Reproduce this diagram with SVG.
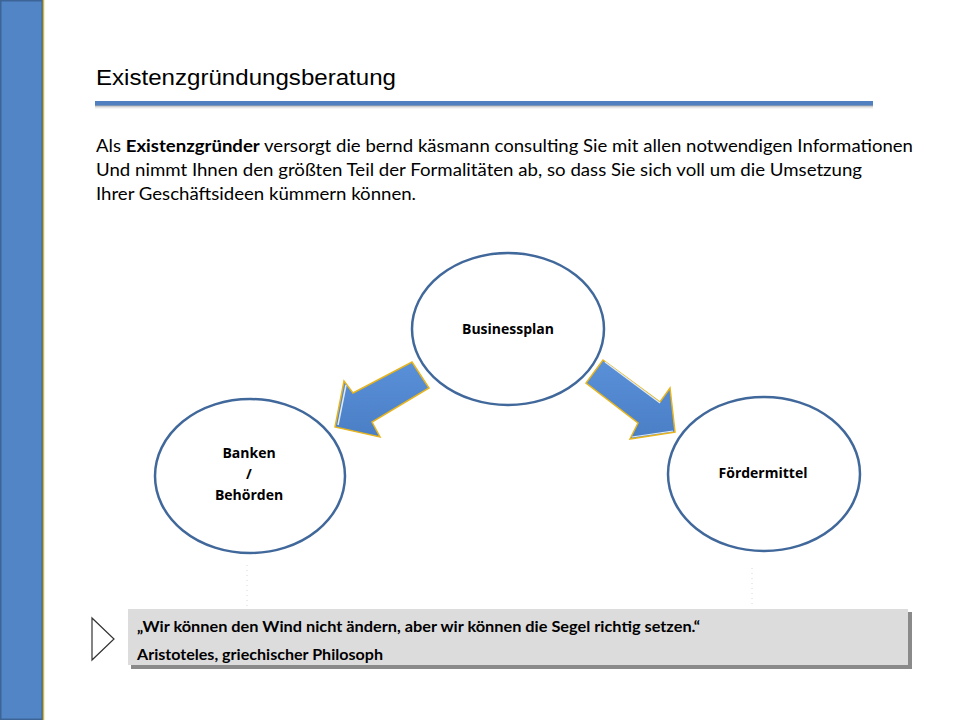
<svg xmlns="http://www.w3.org/2000/svg" width="960" height="720" viewBox="0 0 960 720">
<defs>
<style>
.title{font-family:"Liberation Sans",Arial,sans-serif;font-size:22px;fill:#000}
.para{font-family:Lato,"Open Sans",sans-serif;font-size:17px;fill:#000}
.lbl{font-family:"Open Sans",Lato,sans-serif;font-size:14px;font-weight:bold;fill:#000;text-anchor:middle}
.quote{font-family:Lato,"Open Sans",sans-serif;font-size:15px;font-weight:bold;fill:#000}
.node ellipse{fill:#fff;stroke:#41689b;stroke-width:2.5}
.arrow{fill:url(#ag);stroke:#e6b41e;stroke-width:1.5;stroke-linejoin:miter}
.faint{stroke:#d8d8d8;stroke-width:1;stroke-dasharray:1 4;fill:none}
</style>
<linearGradient id="ag" x1="0" y1="0" x2="0" y2="1">
<stop offset="0" stop-color="#5a90d8"/>
<stop offset="1" stop-color="#4a7fc6"/>
</linearGradient>
<linearGradient id="sh" x1="0" y1="0" x2="0" y2="1">
<stop offset="0" stop-color="#9a9a9a"/>
<stop offset="1" stop-color="#ffffff" stop-opacity="0"/>
</linearGradient>
</defs>
<rect x="0" y="0" width="960" height="720" fill="#fff"/>
<!-- left bar -->
<rect x="0.75" y="0.75" width="41.5" height="718.5" fill="#5285c6" stroke="#3d6497" stroke-width="1.5"/>
<line x1="43.5" y1="0" x2="43.5" y2="720" stroke="#d9b632" stroke-width="1.5"/>
<!-- title -->
<text class="title" x="96" y="85" textLength="300" lengthAdjust="spacingAndGlyphs">Existenzgründungsberatung</text>
<rect x="95" y="105" width="778" height="5" fill="url(#sh)"/>
<rect x="95" y="101" width="778" height="4.5" fill="#5080c0"/>
<!-- paragraph -->
<text class="para" x="96" y="152" textLength="817" lengthAdjust="spacingAndGlyphs">Als <tspan font-weight="bold">Existenzgründer</tspan> versorgt die bernd käsmann consulting Sie mit allen notwendigen Informationen</text>
<text class="para" x="96" y="176" textLength="766" lengthAdjust="spacingAndGlyphs">Und nimmt Ihnen den größten Teil der Formalitäten ab, so dass Sie sich voll um die Umsetzung</text>
<text class="para" x="96" y="200" textLength="320" lengthAdjust="spacingAndGlyphs">Ihrer Geschäftsideen kümmern können.</text>
<!-- faint dotted guides -->
<g id="guides">
<line class="faint" x1="247" y1="565" x2="247" y2="607"/>
<line class="faint" x1="752" y1="568" x2="752" y2="607"/>
</g>
<!-- connectors -->
<g id="connectors">
<polygon class="arrow" points="412,362 429,388 372,422 380,437 335,427 344,381 353,393"/>
<polygon class="arrow" points="603,360 660,402 670,388 675,432 630,439 638,423 586,383"/>
<polyline points="338,425 346,385" fill="none" stroke="#dfeaf8" stroke-width="1.5"/>
<polyline points="605,362 660,403" fill="none" stroke="#dfeaf8" stroke-width="1.2"/>
<polyline points="632,437 673,431" fill="none" stroke="#dfeaf8" stroke-width="1.2"/>
</g>
<!-- nodes -->
<g id="businessplan" class="node">
<ellipse cx="508" cy="329" rx="96" ry="76"/>
<text class="lbl" x="508" y="334">Businessplan</text>
</g>
<g id="banken" class="node">
<ellipse cx="250" cy="476" rx="95" ry="77"/>
<text class="lbl" x="249" y="458">Banken</text>
<text class="lbl" x="249" y="479">/</text>
<text class="lbl" x="249" y="500">Behörden</text>
</g>
<g id="foerdermittel" class="node">
<ellipse cx="764" cy="474" rx="96" ry="77"/>
<text class="lbl" x="763" y="478">Fördermittel</text>
</g>
<!-- quote box -->
<g id="quote">
<rect x="131" y="612" width="781" height="57" fill="#8a8a8a"/>
<rect x="128" y="609" width="780" height="56" fill="#dcdcdc"/>
<polygon points="92,618 114,639 92,660" fill="#fff" stroke="#333" stroke-width="1.2"/>
<text class="quote" x="137" y="632" textLength="563" lengthAdjust="spacingAndGlyphs">„Wir können den Wind nicht ändern, aber wir können die Segel richtig setzen.“</text>
<text class="quote" x="137" y="660" textLength="246" lengthAdjust="spacingAndGlyphs">Aristoteles, griechischer Philosoph</text>
</g>
</svg>
